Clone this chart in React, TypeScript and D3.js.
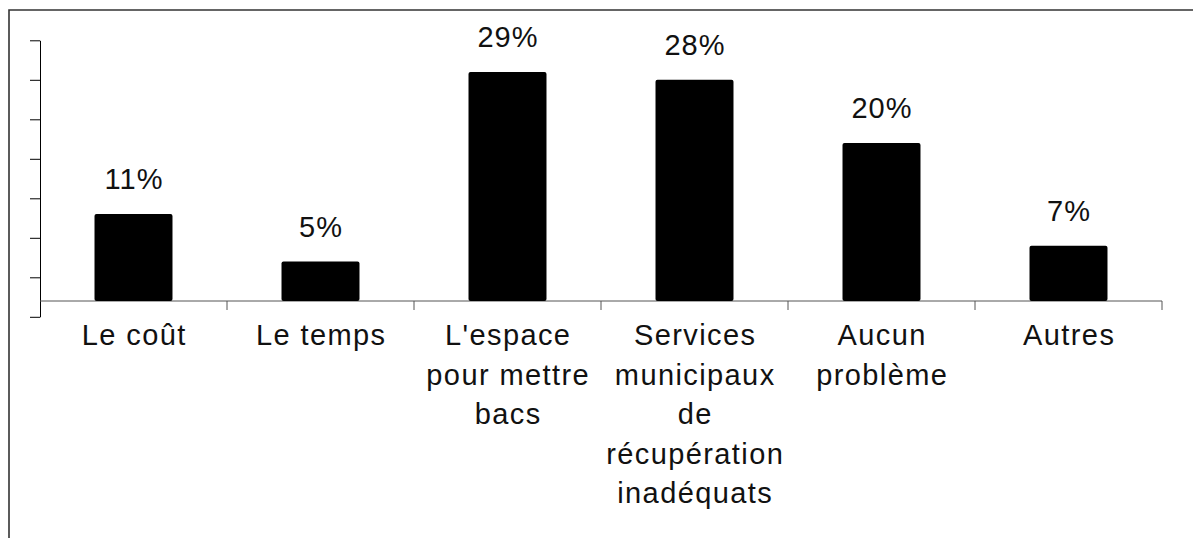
import React, { useEffect, useRef } from 'react';
import * as d3 from 'd3';

// categories (line-broken as in the chart) and their shares in %
const categories = ['Le coût', 'Le temps', "L'espace", 'Services', 'Aucun', 'Autres'];
const categoryLines = [
    ['Le coût'],
    ['Le temps'],
    ["L'espace", 'pour mettre', 'bacs'],
    ['Services', 'municipaux', 'de', 'récupération', 'inadéquats'],
    ['Aucun', 'problème'],
    ['Autres'],
];
const values = [11, 5, 29, 28, 20, 7];
const valueLabels = ['11%', '5%', '29%', '28%', '20%', '7%'];
// unlabelled y ticks (axis runs a little below zero)
const yTicks = [-2, 3, 8, 13, 18, 23, 28, 33];

const W = 1193;
const H = 538;
const FONT = '"Liberation Sans", Arial, sans-serif';

const drawChart = (node: SVGSVGElement) => {
    const svg = d3.select(node);
    svg.selectAll('*').remove();

    const left = 40;
    const right = 1162;

    // outer frame, cut by the picture edges
    svg.append('path')
        .attr('d', `M9,${H + 5} L9,10 L${W + 5},10`)
        .attr('fill', 'none')
        .attr('stroke', '#333')
        .attr('stroke-width', 1.6);

    const x = d3.scaleBand()
        .domain(categories)
        .range([left, right])
        .paddingInner(0.583)
        .paddingOuter(0.2915);

    const y = d3.scaleLinear()
        .domain([-2, 33])
        .range([316.8, 40.3]);

    // y axis, ticks only
    svg.append('g')
        .attr('transform', `translate(${left},0)`)
        .call(d3.axisLeft(y).tickValues(yTicks).tickFormat(() => '').tickSize(10).tickSizeOuter(0))
        .call(g => g.select('.domain').attr('stroke', '#000'))
        .call(g => g.selectAll('.tick line').attr('stroke', '#000'));

    // x axis line at zero, ticks between categories
    const zero = y(0);
    svg.append('line')
        .attr('x1', left).attr('x2', right)
        .attr('y1', zero).attr('y2', zero)
        .attr('stroke', '#555')
        .attr('stroke-width', 1);

    const step = x.step();
    const bounds = categories.map(c => (x(c) as number) + x.bandwidth() / 2 - step / 2).concat([right]);
    svg.append('g')
        .selectAll('line')
        .data(bounds.slice(1))
        .enter().append('line')
        .attr('x1', d => d).attr('x2', d => d)
        .attr('y1', zero).attr('y2', zero + 9)
        .attr('stroke', '#555')
        .attr('stroke-width', 1);

    // bars
    svg.append('g')
        .selectAll('rect')
        .data(values)
        .enter().append('rect')
        .attr('x', (d, i) => x(categories[i]) as number)
        .attr('y', d => y(d))
        .attr('width', x.bandwidth())
        .attr('height', d => zero - y(d))
        .attr('rx', 2)
        .attr('fill', '#000');

    // value labels
    svg.append('g')
        .selectAll('text')
        .data(values)
        .enter().append('text')
        .attr('x', (d, i) => (x(categories[i]) as number) + x.bandwidth() / 2 + 0.5)
        .attr('y', d => y(d) - 25)
        .attr('text-anchor', 'middle')
        .style('font-family', FONT)
        .style('font-size', '29px')
        .style('letter-spacing', '1px')
        .attr('fill', '#111')
        .text((d, i) => valueLabels[i]);

    // category labels
    const cat = svg.append('g')
        .selectAll('text')
        .data(categoryLines)
        .enter().append('text')
        .attr('text-anchor', 'middle')
        .style('font-family', FONT)
        .style('font-size', '29px')
        .style('letter-spacing', '1.4px')
        .attr('fill', '#111');
    cat.selectAll('tspan')
        .data((d, i) => d.map(line => ({ line, i })))
        .enter().append('tspan')
        .attr('x', d => (x(categories[d.i]) as number) + x.bandwidth() / 2 + 0.7)
        .attr('y', (d, j) => 345 + j * 39.5)
        .text(d => d.line);
};

const App = () => {
    const ref = useRef<SVGSVGElement>(null);

    useEffect(() => {
        if (ref.current) drawChart(ref.current);
    }, []);

    return (
        <svg
            ref={ref}
            width={W}
            height={H}
            style={{ position: 'absolute', left: 0, top: 0, background: '#fff' }}
        />
    );
};

export default App;
